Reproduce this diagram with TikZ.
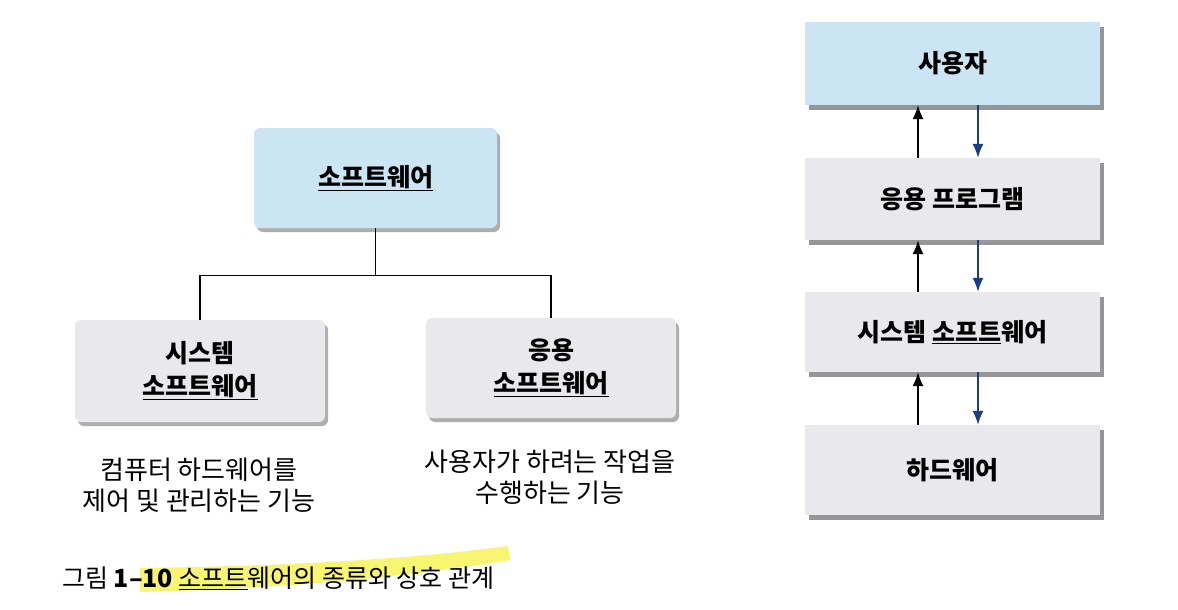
\documentclass[tikz,border=0pt]{standalone}
\usepackage{fontspec}
\setmainfont{Noto Sans CJK KR}
\usetikzlibrary{shadows,arrows.meta}
\definecolor{boxblue}{RGB}{203,229,245}
\definecolor{boxgray}{RGB}{233,233,237}
\definecolor{arrblue}{RGB}{30,60,130}
\definecolor{hl}{RGB}{246,244,90}
\tikzset{
  bx/.style={draw=none, rounded corners=6pt, align=center, font=\fontsize{25}{33}\selectfont\bfseries,
    drop shadow={shadow xshift=3pt, shadow yshift=-4pt, opacity=0.45, fill=black!70}},
  rbx/.style={draw=none, align=center, font=\fontsize{25}{30}\selectfont\bfseries,
    drop shadow={shadow xshift=4pt, shadow yshift=-5pt, opacity=0.55, fill=black!75}},
  desc/.style={align=center, font=\fontsize{26}{31}\selectfont},
  tree/.style={line width=1.2pt, black},
  uparr/.style={line width=1.5pt, black, -{Latex[length=14pt,width=11pt]}},
  dnarr/.style={line width=1.5pt, arrblue, -{Latex[length=14pt,width=11pt]}},
}
\begin{document}
\begin{tikzpicture}[x=1pt,y=-1pt]
\useasboundingbox[fill=white] (0,0) rectangle (1178,610);
% left tree
\node[bx, fill=boxblue, minimum width=243pt, minimum height=100pt] (sw) at (375.5,178) {\underline{소프트웨어}};
\node[bx, fill=boxgray, minimum width=250pt, minimum height=102pt] (sys) at (200,371) {시스템\\\underline{소프트웨어}};
\node[bx, fill=boxgray, minimum width=250pt, minimum height=100pt] (app) at (551,368) {응용\\\underline{소프트웨어}};
\draw[tree] (sw.south) -- ++(0,47) coordinate (j) -| (sys.north);
\draw[tree] (j) -| (app.north);
\node[desc] (d1) at (199,485) {컴퓨터 하드웨어를\\제어 및 관리하는 기능};
\node[desc] (d2) at (550,477) {사용자가 하려는 작업을\\수행하는 기능};
% caption with highlight
\fill[hl, opacity=0.85] (140,568) .. controls (300,566) and (420,558) .. (508,546)
  -- (510,560) .. controls (420,575) and (300,588) .. (140,592) -- cycle;
\node[anchor=west, font=\fontsize{25}{28}\selectfont, inner sep=0pt] (cap) at (62,578)
  {그림 \textbf{1–10} \underline{소프트}웨어의 종류와 상호 관계};
% right stack
\node[rbx, fill=boxblue, minimum width=295pt, minimum height=83pt] (user) at (952.5,63.5) {사용자};
\node[rbx, fill=boxgray, minimum width=295pt, minimum height=82pt] (aprog) at (952.5,199) {응용 프로그램};
\node[rbx, fill=boxgray, minimum width=295pt, minimum height=80pt] (ssw) at (952.5,332) {시스템 \underline{소프트}웨어};
\node[rbx, fill=boxgray, minimum width=295pt, minimum height=90pt] (hw) at (952.5,470) {하드웨어};
\foreach \a/\b in {user/aprog, aprog/ssw, ssw/hw}{
  \draw[uparr] ([xshift=-34.5pt]\b.north) -- ([xshift=-34.5pt]\a.south);
  \draw[dnarr] ([xshift=25.5pt]\a.south) -- ([xshift=25.5pt]\b.north);
}
\end{tikzpicture}
\end{document}
